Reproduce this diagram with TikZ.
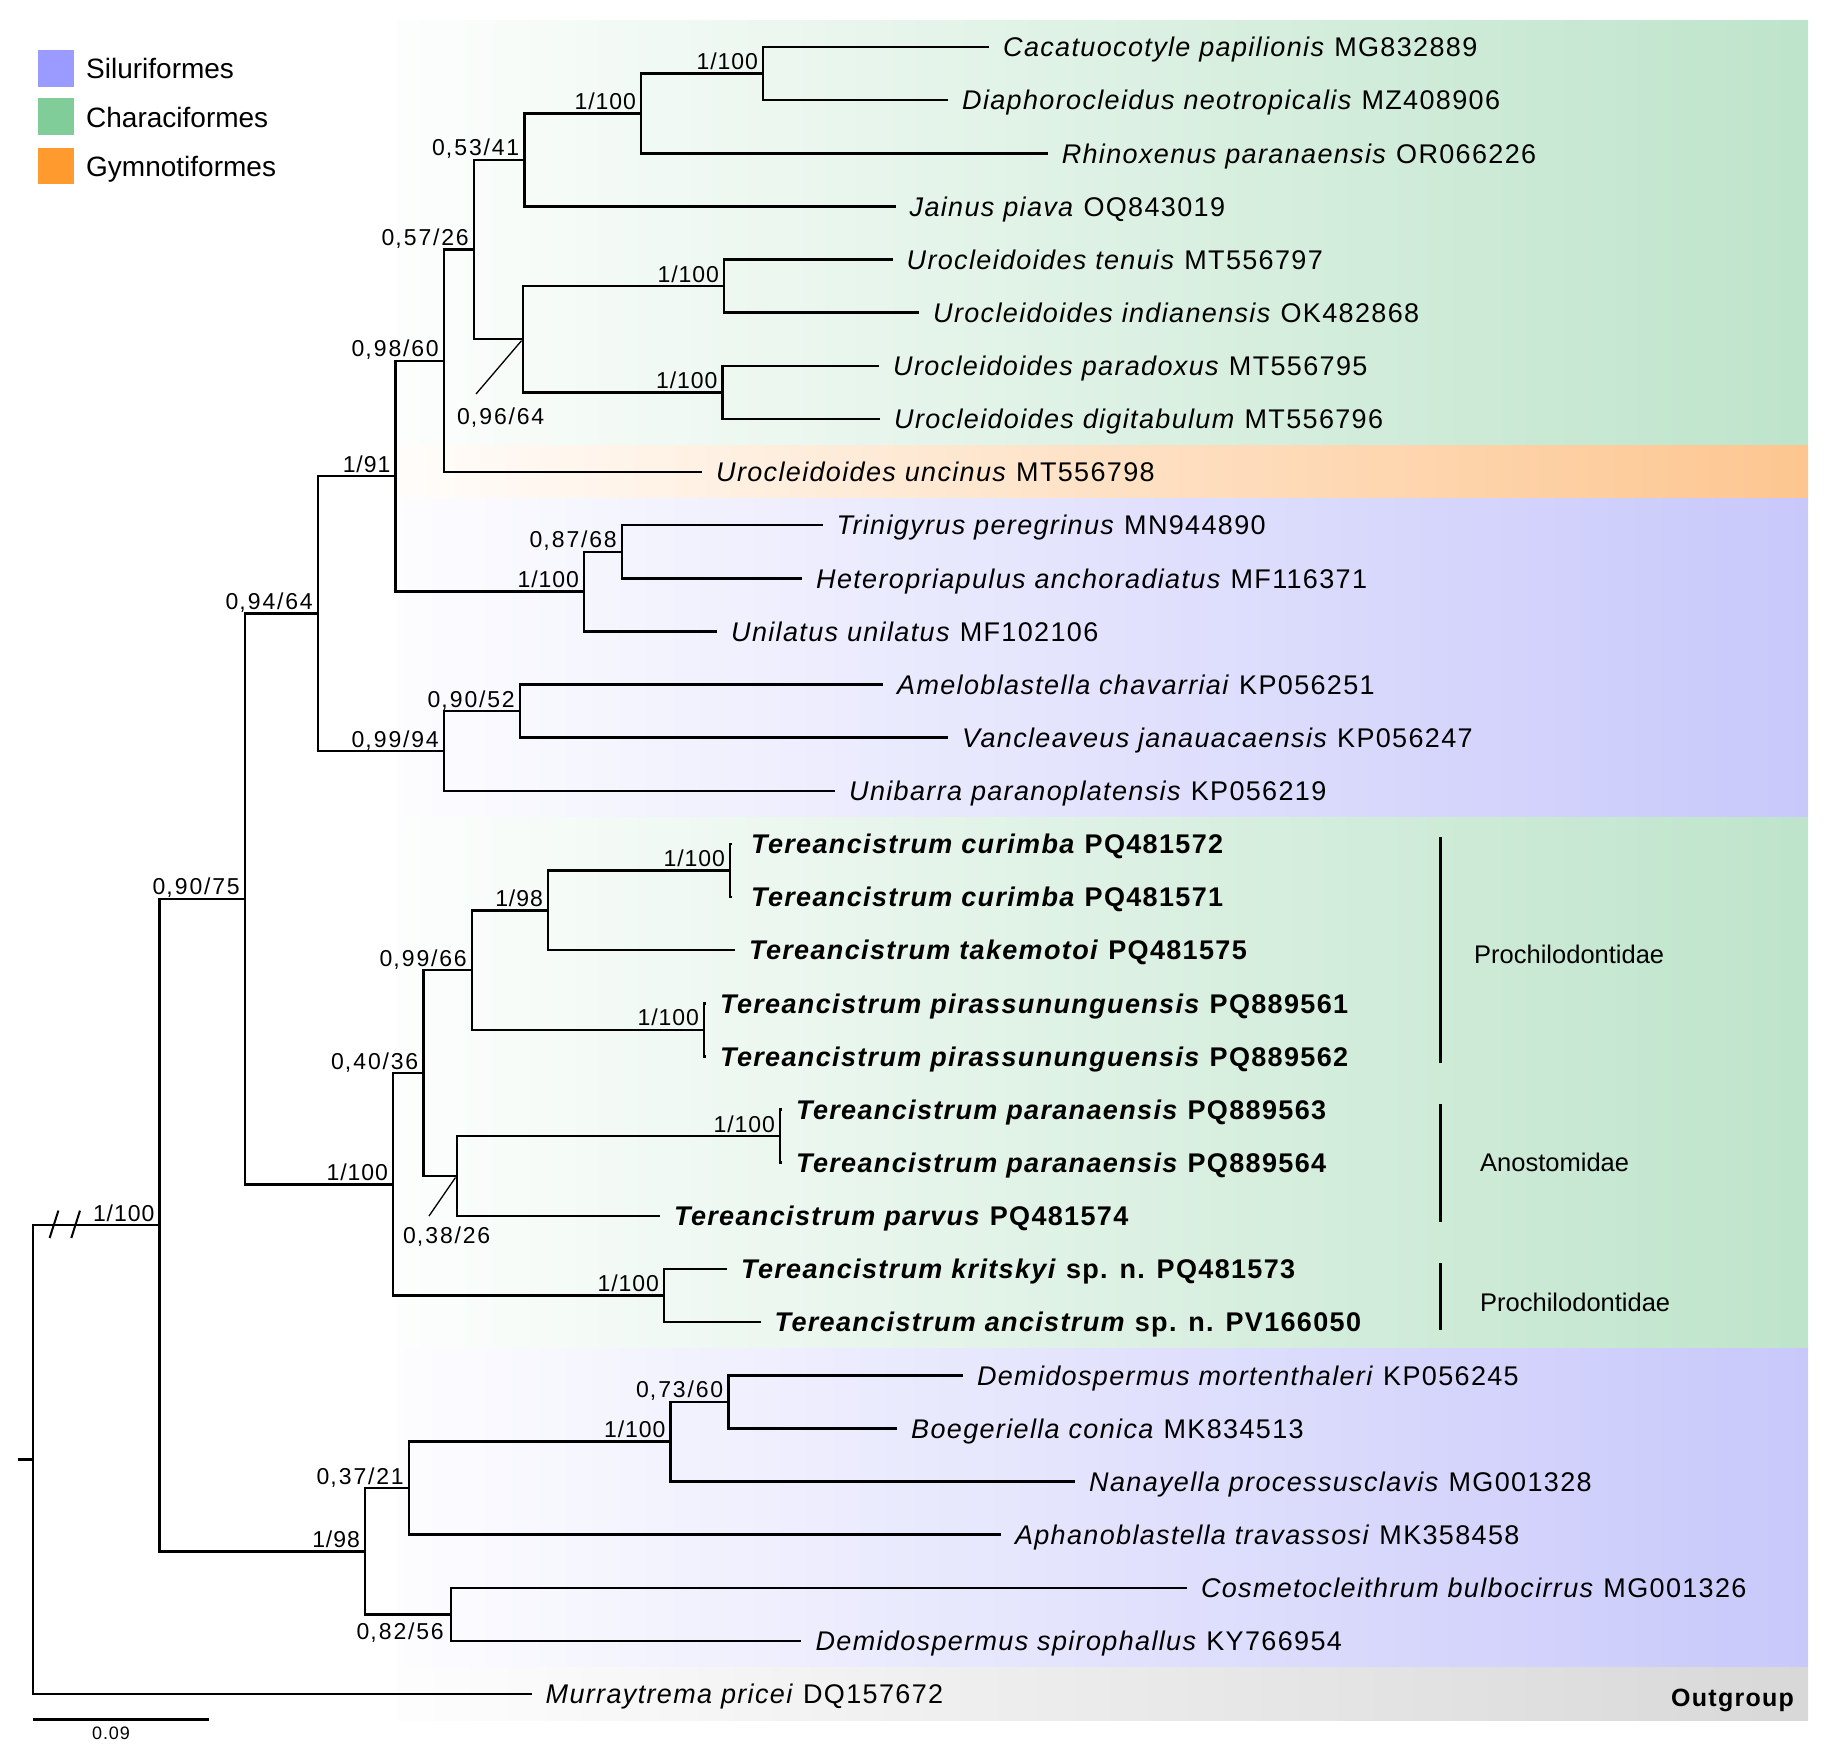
\documentclass[tikz,border=0pt]{standalone}
\usepackage{fontspec}
\setmainfont{Liberation Sans}[LetterSpace=5]
\newfontfamily\svfont{Liberation Sans}[LetterSpace=4]
\newfontfamily\svwfont{Liberation Sans}[LetterSpace=8]
\newfontfamily\plainfont{Liberation Sans}
\definecolor{silL}{HTML}{9B9BFF}
\definecolor{chaL}{HTML}{80CD9A}
\definecolor{gymL}{HTML}{FF9A2E}
\definecolor{silB}{HTML}{C8C8FB}
\definecolor{chaB}{HTML}{BEE4CB}
\definecolor{gymB}{HTML}{FDC690}
\definecolor{outB}{HTML}{D8D8D8}
\tikzset{
  br/.style={line width=2.5pt, line join=miter},
  callout/.style={line width=1.3pt},
  leaf/.style={anchor=west, inner xsep=14pt, inner ysep=0pt, text height=19.5pt, text depth=0pt, font=\fontsize{27}{30}\selectfont},
  leafz/.style={leaf, inner xsep=19pt},
  sv/.style={anchor=base east, inner sep=0pt, font=\svfont\fontsize{23}{25}\selectfont},
  svw/.style={sv, font=\svwfont\fontsize{23}{25}\selectfont},
  fam/.style={anchor=base west, inner sep=0pt, font=\plainfont\fontsize{25.5}{28}\selectfont},
  legtxt/.style={anchor=base west, inner sep=0pt, font=\plainfont\fontsize{28}{30}\selectfont},
  legbox/.style={minimum width=36.5pt, minimum height=36.7pt, inner sep=0pt},
  fambar/.style={line width=2.6pt},
}
\newcommand{\ti}[1]{\textit{#1}}
\newcommand{\tb}[1]{\textbf{#1}}
\newcommand{\cmm}{\kern1pt,\kern2pt}
\begin{document}
\begin{tikzpicture}[x=1pt,y=-1pt]
\useasboundingbox (0,0) rectangle (1833,1752);
% background bands
\shade[left color=chaB!4!white, right color=chaB] (397,20.7) rectangle (1808,445.5);
\shade[left color=gymB!4!white, right color=gymB] (397,445.5) rectangle (1808,498.6);
\shade[left color=silB!4!white, right color=silB] (397,498.6) rectangle (1808,817.4);
\shade[left color=chaB!4!white, right color=chaB] (397,817.4) rectangle (1808,1348.7);
\shade[left color=silB!4!white, right color=silB] (397,1348.7) rectangle (1808,1667.5);
\shade[left color=outB!4!white, right color=outB] (397,1667.5) rectangle (1808,1720);

% legend
\node[legbox, fill=silL] (k1) at (55.75,68.35) {};
\node[legbox, fill=chaL] (k2) at (55.75,116.5) {};
\node[legbox, fill=gymL] (k3) at (55.75,166) {};
\node[legtxt] (t1) at (86,78.5) {Siluriformes};
\node[legtxt] (t2) at (86,127.5) {Characiformes};
\node[legtxt] (t3) at (86,177) {Gymnotiformes};

% internal nodes
\coordinate (R) at (33,1459.55);
\coordinate (R0) at (17.5,1459.55);
\coordinate (A) at (159.5,1225.1);
\coordinate (B) at (245,898.95);
\coordinate (C) at (318,613.6);
\coordinate (D) at (395.5,476.2);
\coordinate (F) at (444,360.8);
\coordinate (H) at (474,249.55);
\coordinate (I) at (524.5,159.9);
\coordinate (K) at (641,113.4);
\coordinate (L) at (763,73.55);
\coordinate (J) at (523,339.2);
\coordinate (M) at (724,286.1);
\coordinate (N) at (722.5,392.35);
\coordinate (G) at (584,591.6);
\coordinate (O) at (622,551.75);
\coordinate (E) at (444,751);
\coordinate (P) at (520,711.15);
\coordinate (T) at (393,1184.3);
\coordinate (U) at (423.5,1073.1);
\coordinate (W) at (472,970.15);
\coordinate (Y) at (548,910.4);
\coordinate (AA) at (730,870.55);
\coordinate (Z) at (704,1029.9);
\coordinate (X) at (457,1176);
\coordinate (AB) at (780,1136.15);
\coordinate (V) at (664,1295.55);
\coordinate (S) at (365,1551.25);
\coordinate (AC) at (409,1488.15);
\coordinate (AE) at (670.6,1441.7);
\coordinate (AF) at (728.4,1401.85);
\coordinate (AD) at (451,1614.35);

% leaves
\node[leaf] (l0) at (989,47.0) {\ti{Cacatuocotyle papilionis} MG832889};
\node[leaf] (l1) at (948,100.1) {\ti{Diaphorocleidus neotropicalis} MZ408906};
\node[leaf] (l2) at (1047.6,153.3) {\ti{Rhinoxenus paranaensis} OR066226};
\node[leaf] (l3) at (895.5,206.4) {\ti{Jainus piava} OQ843019};
\node[leaf] (l4) at (892.5,259.5) {\ti{Urocleidoides tenuis} MT556797};
\node[leaf] (l5) at (919,312.7) {\ti{Urocleidoides indianensis} OK482868};
\node[leaf] (l6) at (879,365.8) {\ti{Urocleidoides paradoxus} MT556795};
\node[leaf] (l7) at (880,418.9) {\ti{Urocleidoides digitabulum} MT556796};
\node[leaf] (l8) at (702,472.0) {\ti{Urocleidoides uncinus} MT556798};
\node[leaf] (l9) at (822.5,525.2) {\ti{Trinigyrus peregrinus} MN944890};
\node[leaf] (l10) at (802,578.3) {\ti{Heteropriapulus anchoradiatus} MF116371};
\node[leaf] (l11) at (717,631.4) {\ti{Unilatus unilatus} MF102106};
\node[leaf] (l12) at (883,684.6) {\ti{Ameloblastella chavarriai} KP056251};
\node[leaf] (l13) at (948,737.7) {\ti{Vancleaveus janauacaensis} KP056247};
\node[leaf] (l14) at (835,790.8) {\ti{Unibarra paranoplatensis} KP056219};
\node[leafz] (l15) at (732,844.0) {\tb{\ti{Tereancistrum curimba} PQ481572}};
\node[leafz] (l16) at (732,897.1) {\tb{\ti{Tereancistrum curimba} PQ481571}};
\node[leaf] (l17) at (735,950.2) {\tb{\ti{Tereancistrum takemotoi} PQ481575}};
\node[leaf] (l18) at (706,1003.3) {\tb{\ti{Tereancistrum pirassununguensis} PQ889561}};
\node[leaf] (l19) at (706,1056.5) {\tb{\ti{Tereancistrum pirassununguensis} PQ889562}};
\node[leaf] (l20) at (782,1109.6) {\tb{\ti{Tereancistrum paranaensis} PQ889563}};
\node[leaf] (l21) at (782,1162.7) {\tb{\ti{Tereancistrum paranaensis} PQ889564}};
\node[leaf] (l22) at (660,1215.9) {\tb{\ti{Tereancistrum parvus} PQ481574}};
\node[leaf] (l23) at (727,1269.0) {\tb{\ti{Tereancistrum kritskyi} sp. n. PQ481573}};
\node[leaf] (l24) at (760.5,1322.1) {\tb{\ti{Tereancistrum ancistrum} sp. n. PV166050}};
\node[leaf] (l25) at (962.8,1375.3) {\ti{Demidospermus mortenthaleri} KP056245};
\node[leaf] (l26) at (897,1428.4) {\ti{Boegeriella conica} MK834513};
\node[leaf] (l27) at (1075,1481.5) {\ti{Nanayella processusclavis} MG001328};
\node[leaf] (l28) at (1000.8,1534.6) {\ti{Aphanoblastella travassosi} MK358458};
\node[leaf] (l29) at (1186.8,1587.8) {\ti{Cosmetocleithrum bulbocirrus} MG001326};
\node[leaf] (l30) at (801.4,1640.9) {\ti{Demidospermus spirophallus} KY766954};
\node[leaf] (l31) at (531.5,1694.0) {\ti{Murraytrema pricei} DQ157672};

% branches
\draw[br] (R0) -- (R);
\draw[br] (R) |- (A);
\draw[br] (R) |- (l31.west);
\draw[br] (A) |- (B);
\draw[br] (A) |- (S);
\draw[br] (B) |- (C);
\draw[br] (B) |- (T);
\draw[br] (C) |- (D);
\draw[br] (C) |- (E);
\draw[br] (D) |- (F);
\draw[br] (D) |- (G);
\draw[br] (F) |- (H);
\draw[br] (F) |- (l8.west);
\draw[br] (H) |- (I);
\draw[br] (H) |- (J);
\draw[br] (I) |- (K);
\draw[br] (I) |- (l3.west);
\draw[br] (K) |- (L);
\draw[br] (K) |- (l2.west);
\draw[br] (L) |- (l0.west);
\draw[br] (L) |- (l1.west);
\draw[br] (J) |- (M);
\draw[br] (J) |- (N);
\draw[br] (M) |- (l4.west);
\draw[br] (M) |- (l5.west);
\draw[br] (N) |- (l6.west);
\draw[br] (N) |- (l7.west);
\draw[br] (G) |- (O);
\draw[br] (G) |- (l11.west);
\draw[br] (O) |- (l9.west);
\draw[br] (O) |- (l10.west);
\draw[br] (E) |- (P);
\draw[br] (E) |- (l14.west);
\draw[br] (P) |- (l12.west);
\draw[br] (P) |- (l13.west);
\draw[br] (T) |- (U);
\draw[br] (T) |- (V);
\draw[br] (U) |- (W);
\draw[br] (U) |- (X);
\draw[br] (W) |- (Y);
\draw[br] (W) |- (Z);
\draw[br] (Y) |- (AA);
\draw[br] (Y) |- (l17.west);
\draw[br] (AA) |- (l15.west);
\draw[br] (AA) |- (l16.west);
\draw[br] (Z) |- (l18.west);
\draw[br] (Z) |- (l19.west);
\draw[br] (X) |- (AB);
\draw[br] (X) |- (l22.west);
\draw[br] (AB) |- (l20.west);
\draw[br] (AB) |- (l21.west);
\draw[br] (V) |- (l23.west);
\draw[br] (V) |- (l24.west);
\draw[br] (S) |- (AC);
\draw[br] (S) |- (AD);
\draw[br] (AC) |- (AE);
\draw[br] (AC) |- (l28.west);
\draw[br] (AE) |- (AF);
\draw[br] (AE) |- (l27.west);
\draw[br] (AF) |- (l25.west);
\draw[br] (AF) |- (l26.west);
\draw[br] (AD) |- (l29.west);
\draw[br] (AD) |- (l30.west);

% break marks on root branch
\draw[line width=2pt] (49.6,1238) -- (58.4,1210.6);
\draw[line width=2pt] (71.3,1238) -- (80,1210.6);

% support values
\node[sv] (sA) at ([xshift=-5pt,yshift=4pt]A) {1/100};
\node[svw] (sB) at ([xshift=-5pt,yshift=4pt]B) {0\cmm 90/75};
\node[svw] (sC) at ([xshift=-5pt,yshift=4pt]C) {0\cmm 94/64};
\node[sv] (sD) at ([xshift=-5pt,yshift=4pt]D) {1/91};
\node[svw] (sF) at ([xshift=-5pt,yshift=4pt]F) {0\cmm 98/60};
\node[svw] (sH) at ([xshift=-5pt,yshift=4pt]H) {0\cmm 57/26};
\node[svw] (sI) at ([xshift=-5pt,yshift=4pt]I) {0\cmm 53/41};
\node[sv] (sK) at ([xshift=-5pt,yshift=4pt]K) {1/100};
\node[sv] (sL) at ([xshift=-5pt,yshift=4pt]L) {1/100};
\node[sv] (sM) at ([xshift=-5pt,yshift=4pt]M) {1/100};
\node[sv] (sN) at ([xshift=-5pt,yshift=4pt]N) {1/100};
\node[sv] (sG) at ([xshift=-5pt,yshift=4pt]G) {1/100};
\node[svw] (sO) at ([xshift=-5pt,yshift=4pt]O) {0\cmm 87/68};
\node[svw] (sE) at ([xshift=-5pt,yshift=4pt]E) {0\cmm 99/94};
\node[svw] (sP) at ([xshift=-5pt,yshift=4pt]P) {0\cmm 90/52};
\node[sv] (sT) at ([xshift=-5pt,yshift=4pt]T) {1/100};
\node[svw] (sU) at ([xshift=-5pt,yshift=4pt]U) {0\cmm 40/36};
\node[svw] (sW) at ([xshift=-5pt,yshift=4pt]W) {0\cmm 99/66};
\node[sv] (sY) at ([xshift=-5pt,yshift=4pt]Y) {1/98};
\node[sv] (sAA) at ([xshift=-5pt,yshift=4pt]AA) {1/100};
\node[sv] (sZ) at ([xshift=-5pt,yshift=4pt]Z) {1/100};
\node[sv] (sAB) at ([xshift=-5pt,yshift=4pt]AB) {1/100};
\node[sv] (sV) at ([xshift=-5pt,yshift=4pt]V) {1/100};
\node[sv] (sS) at ([xshift=-5pt,yshift=4pt]S) {1/98};
\node[svw] (sAC) at ([xshift=-5pt,yshift=4pt]AC) {0\cmm 37/21};
\node[sv] (sAE) at ([xshift=-5pt,yshift=4pt]AE) {1/100};
\node[svw] (sAF) at ([xshift=-5pt,yshift=4pt]AF) {0\cmm 73/60};
\node[svw] (sAD) at (444,1639) {0\cmm 82/56};
\node[svw, anchor=base west] (sJ) at (457,424.5) {0\cmm 96/64};
\node[svw, anchor=base west] (sX) at (403,1243.5) {0\cmm 38/26};
\coordinate (cJ) at (476,394);
\coordinate (cX) at (429,1216);
\draw[callout] ([xshift=-1.5pt,yshift=-1.5pt]J) -- (cJ);
\draw[callout] ([xshift=-1.5pt,yshift=-1.5pt]X) -- (cX);

% family bars
\coordinate (f1a) at (1440.6,837);
\coordinate (f1b) at (1440.6,1063);
\coordinate (f2a) at (1440.6,1104);
\coordinate (f2b) at (1440.6,1222);
\coordinate (f3a) at (1440.6,1263);
\coordinate (f3b) at (1440.6,1330);
\draw[fambar] (f1a) -- (f1b);
\draw[fambar] (f2a) -- (f2b);
\draw[fambar] (f3a) -- (f3b);
\node[fam] (fl1) at (1474,963.7) {Prochilodontidae};
\node[fam] (fl2) at (1480,1171) {Anostomidae};
\node[fam] (fl3) at (1480,1311.5) {Prochilodontidae};

% outgroup label
\node[anchor=base east, inner sep=0pt, font=\bfseries\fontsize{25}{27}\selectfont] (og) at (1794,1706.5) {Outgroup};

% scale bar
\coordinate (sb1) at (33,1719.4);
\coordinate (sb2) at (208.5,1719.4);
\draw[br] (sb1) -- (sb2);
\node[anchor=base, inner sep=0pt, font=\fontsize{18}{20}\selectfont] (sbl) at (111,1739) {0.09};
\end{tikzpicture}
\end{document}
